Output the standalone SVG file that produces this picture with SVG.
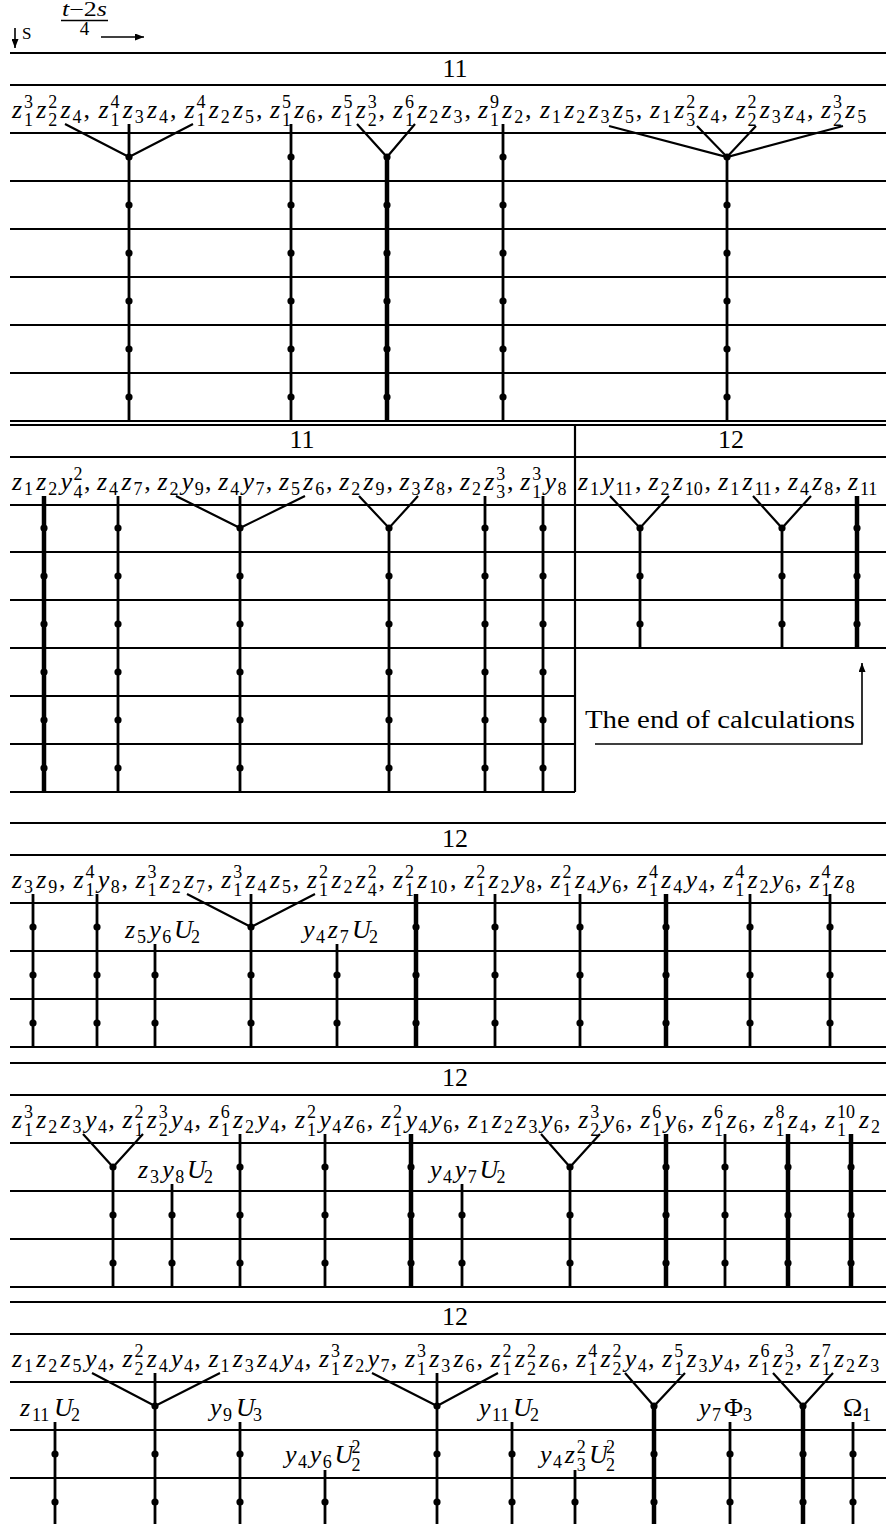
<svg xmlns="http://www.w3.org/2000/svg" width="886" height="1524" viewBox="0 0 886 1524">
<style>
.h{stroke:#000;stroke-width:2.2;fill:none}
.v{stroke:#000;stroke-width:2.8;fill:none;marker-mid:url(#dot)}
.k{stroke:#000;stroke-width:4.5;fill:none;marker-mid:url(#dot)}
.ds{marker-start:url(#dot)}
.br{stroke:#000;stroke-width:2.2;fill:none;stroke-linejoin:miter}
.m{font-family:"Liberation Serif","Times New Roman",serif;font-size:26px;font-style:italic;fill:#000}
.r{font-style:normal}
.b{font-size:18px;font-style:normal;baseline-shift:-4.5px}
.bs{font-size:18px;font-style:normal;baseline-shift:-8px}
.p{font-size:18px;font-style:normal;baseline-shift:10px}
.hd{font-family:"Liberation Serif","Times New Roman",serif;font-size:26px;fill:#000;text-anchor:middle}
.ar{stroke:#000;stroke-width:1.6;fill:none;marker-end:url(#ah)}
</style>
<defs>
<marker id="dot" markerUnits="userSpaceOnUse" markerWidth="8" markerHeight="8" refX="4" refY="4" orient="auto" overflow="visible"><circle cx="4" cy="4" r="3.6" fill="#000"/></marker>
<marker id="ah" markerUnits="userSpaceOnUse" markerWidth="9" markerHeight="7" refX="9" refY="3.5" orient="auto"><path d="M0,0 L9,3.5 L0,7 z" fill="#000"/></marker>
</defs>
<rect width="886" height="1524" fill="#fff"/>

<g id="header">
<line class="ar" x1="15" y1="28" x2="15" y2="48"/>
<text x="22" y="39" font-family="Liberation Serif, Times New Roman, serif" font-size="17">S</text>
<text class="m" x="62" y="16" textLength="45" lengthAdjust="spacingAndGlyphs" style="font-size:20px">t<tspan class="r">−2</tspan>s</text>
<line x1="61" y1="20.5" x2="108" y2="20.5" stroke="#000" stroke-width="1.3"/>
<text x="84.5" y="35" font-family="Liberation Serif, Times New Roman, serif" font-size="19" text-anchor="middle">4</text>
<line class="ar" x1="101" y1="37" x2="144" y2="37"/>
</g>

<g id="grid">
<path class="h" d="M10,53H886 M10,85H886 M10,133H886 M10,181H886 M10,229H886 M10,277H886 M10,325H886 M10,373H886 M10,421H886 M10,425H886 M10,457H886 M10,505H886 M10,552H886 M10,600H886 M10,648H886 M10,696H575 M10,744H575 M10,792H575 M575,425V792 M10,823H886 M10,855H886 M10,903H886 M10,951H886 M10,999H886 M10,1047H886 M10,1063H886 M10,1095H886 M10,1143H886 M10,1191H886 M10,1239H886 M10,1287H886 M10,1302H886 M10,1334H886 M10,1382H886 M10,1430H886 M10,1478H886"/>
</g>

<g id="headings">
<text class="hd" x="455" y="77">11</text>
<text class="hd" x="302" y="448">11</text>
<text class="hd" x="731" y="448">12</text>
<text class="hd" x="455" y="847">12</text>
<text class="hd" x="455" y="1086">12</text>
<text class="hd" x="455" y="1325">12</text>
</g>

<g id="block1">
<g id="b1t1"><text class="m" y="118"><tspan x="12">z</tspan><tspan class="bs" x="24">1</tspan><tspan class="p" x="24">3</tspan><tspan x="36.3">z</tspan><tspan class="bs" x="48.3">2</tspan><tspan class="p" x="48.3">2</tspan><tspan x="60.6">z</tspan><tspan class="b" x="72.6">4</tspan><tspan class="r" x="83.4">,</tspan></text></g>
<g id="b1t2"><text class="m" y="118"><tspan x="98.5">z</tspan><tspan class="bs" x="110.5">1</tspan><tspan class="p" x="110.5">4</tspan><tspan x="122.8">z</tspan><tspan class="b" x="134.8">3</tspan><tspan x="147.1">z</tspan><tspan class="b" x="159.1">4</tspan><tspan class="r" x="169.9">,</tspan></text></g>
<g id="b1t3"><text class="m" y="118"><tspan x="184.5">z</tspan><tspan class="bs" x="196.5">1</tspan><tspan class="p" x="196.5">4</tspan><tspan x="208.8">z</tspan><tspan class="b" x="220.8">2</tspan><tspan x="233.1">z</tspan><tspan class="b" x="245.1">5</tspan><tspan class="r" x="255.9">,</tspan></text></g>
<g id="b1t4"><text class="m" y="118"><tspan x="270">z</tspan><tspan class="bs" x="282">1</tspan><tspan class="p" x="282">5</tspan><tspan x="294.3">z</tspan><tspan class="b" x="306.3">6</tspan><tspan class="r" x="317.1">,</tspan></text></g>
<g id="b1t5"><text class="m" y="118"><tspan x="331.5">z</tspan><tspan class="bs" x="343.5">1</tspan><tspan class="p" x="343.5">5</tspan><tspan x="355.8">z</tspan><tspan class="bs" x="367.8">2</tspan><tspan class="p" x="367.8">3</tspan><tspan class="r" x="378.6">,</tspan></text></g>
<g id="b1t6"><text class="m" y="118"><tspan x="393">z</tspan><tspan class="bs" x="405">1</tspan><tspan class="p" x="405">6</tspan><tspan x="417.3">z</tspan><tspan class="b" x="429.3">2</tspan><tspan x="441.6">z</tspan><tspan class="b" x="453.6">3</tspan><tspan class="r" x="464.4">,</tspan></text></g>
<g id="b1t7"><text class="m" y="118"><tspan x="478">z</tspan><tspan class="bs" x="490">1</tspan><tspan class="p" x="490">9</tspan><tspan x="502.3">z</tspan><tspan class="b" x="514.3">2</tspan><tspan class="r" x="525.1">,</tspan></text></g>
<g id="b1t8"><text class="m" y="118"><tspan x="540">z</tspan><tspan class="b" x="552">1</tspan><tspan x="564.3">z</tspan><tspan class="b" x="576.3">2</tspan><tspan x="588.6">z</tspan><tspan class="b" x="600.6">3</tspan><tspan x="612.9">z</tspan><tspan class="b" x="624.9">5</tspan><tspan class="r" x="635.7">,</tspan></text></g>
<g id="b1t9"><text class="m" y="118"><tspan x="650">z</tspan><tspan class="b" x="662">1</tspan><tspan x="674.3">z</tspan><tspan class="bs" x="686.3">3</tspan><tspan class="p" x="686.3">2</tspan><tspan x="698.6">z</tspan><tspan class="b" x="710.6">4</tspan><tspan class="r" x="721.4">,</tspan></text></g>
<g id="b1t10"><text class="m" y="118"><tspan x="735.5">z</tspan><tspan class="bs" x="747.5">2</tspan><tspan class="p" x="747.5">2</tspan><tspan x="759.8">z</tspan><tspan class="b" x="771.8">3</tspan><tspan x="784.1">z</tspan><tspan class="b" x="796.1">4</tspan><tspan class="r" x="806.9">,</tspan></text></g>
<g id="b1t11"><text class="m" y="118"><tspan x="821">z</tspan><tspan class="bs" x="833">2</tspan><tspan class="p" x="833">3</tspan><tspan x="845.3">z</tspan><tspan class="b" x="857.3">5</tspan></text></g>
</g>

<g id="block2">
<g id="b2t1"><text class="m" y="490"><tspan x="12">z</tspan><tspan class="b" x="24">1</tspan><tspan x="36.3">z</tspan><tspan class="b" x="48.3">2</tspan><tspan x="60.6">y</tspan><tspan class="bs" x="73.6">4</tspan><tspan class="p" x="73.6">2</tspan><tspan class="r" x="84">,</tspan></text></g>
<g id="b2t2"><text class="m" y="490"><tspan x="97.1">z</tspan><tspan class="b" x="109.1">4</tspan><tspan x="121.4">z</tspan><tspan class="b" x="133.4">7</tspan><tspan class="r" x="144.2">,</tspan></text></g>
<g id="b2t3"><text class="m" y="490"><tspan x="157.4">z</tspan><tspan class="b" x="169.4">2</tspan><tspan x="181.7">y</tspan><tspan class="b" x="194.7">9</tspan><tspan class="r" x="205">,</tspan></text></g>
<g id="b2t4"><text class="m" y="490"><tspan x="218.2">z</tspan><tspan class="b" x="230.2">4</tspan><tspan x="242.5">y</tspan><tspan class="b" x="255.5">7</tspan><tspan class="r" x="265.8">,</tspan></text></g>
<g id="b2t5"><text class="m" y="490"><tspan x="279">z</tspan><tspan class="b" x="291">5</tspan><tspan x="303.3">z</tspan><tspan class="b" x="315.3">6</tspan><tspan class="r" x="326.1">,</tspan></text></g>
<g id="b2t6"><text class="m" y="490"><tspan x="339.3">z</tspan><tspan class="b" x="351.3">2</tspan><tspan x="363.6">z</tspan><tspan class="b" x="375.6">9</tspan><tspan class="r" x="386.4">,</tspan></text></g>
<g id="b2t7"><text class="m" y="490"><tspan x="399.6">z</tspan><tspan class="b" x="411.6">3</tspan><tspan x="423.9">z</tspan><tspan class="b" x="435.9">8</tspan><tspan class="r" x="446.7">,</tspan></text></g>
<g id="b2t8"><text class="m" y="490"><tspan x="459.9">z</tspan><tspan class="b" x="471.9">2</tspan><tspan x="484.2">z</tspan><tspan class="bs" x="496.2">3</tspan><tspan class="p" x="496.2">3</tspan><tspan class="r" x="507">,</tspan></text></g>
<g id="b2t9"><text class="m" y="490"><tspan x="520.2">z</tspan><tspan class="bs" x="532.2">1</tspan><tspan class="p" x="532.2">3</tspan><tspan x="544.5">y</tspan><tspan class="b" x="557.5">8</tspan></text></g>
<g id="b2r1"><text class="m" y="490"><tspan x="578">z</tspan><tspan class="b" x="590">1</tspan><tspan x="602.3">y</tspan><tspan class="b" x="615.3">11</tspan><tspan class="r" x="635">,</tspan></text></g>
<g id="b2r2"><text class="m" y="490"><tspan x="648.5">z</tspan><tspan class="b" x="660.5">2</tspan><tspan x="672.8">z</tspan><tspan class="b" x="684.8">10</tspan><tspan class="r" x="704.5">,</tspan></text></g>
<g id="b2r3"><text class="m" y="490"><tspan x="718.2">z</tspan><tspan class="b" x="730.2">1</tspan><tspan x="742.5">z</tspan><tspan class="b" x="754.5">11</tspan><tspan class="r" x="774.2">,</tspan></text></g>
<g id="b2r4"><text class="m" y="490"><tspan x="787.9">z</tspan><tspan class="b" x="799.9">4</tspan><tspan x="812.2">z</tspan><tspan class="b" x="824.2">8</tspan><tspan class="r" x="835">,</tspan></text></g>
<g id="b2r5"><text class="m" y="490"><tspan x="848">z</tspan><tspan class="b" x="860">11</tspan></text></g>
<g id="endnote"><text x="585" y="728" font-family="Liberation Serif, Times New Roman, serif" font-size="26" textLength="270" lengthAdjust="spacingAndGlyphs">The end of calculations</text></g>
</g>

<g id="block3">
<g id="b3t1"><text class="m" y="888"><tspan x="12">z</tspan><tspan class="b" x="24">3</tspan><tspan x="36.3">z</tspan><tspan class="b" x="48.3">9</tspan><tspan class="r" x="59.1">,</tspan></text></g>
<g id="b3t2"><text class="m" y="888"><tspan x="73.5">z</tspan><tspan class="bs" x="85.5">1</tspan><tspan class="p" x="85.5">4</tspan><tspan x="97.8">y</tspan><tspan class="b" x="110.8">8</tspan><tspan class="r" x="121.4">,</tspan></text></g>
<g id="b3t3"><text class="m" y="888"><tspan x="135.5">z</tspan><tspan class="bs" x="147.5">1</tspan><tspan class="p" x="147.5">3</tspan><tspan x="159.8">z</tspan><tspan class="b" x="171.8">2</tspan><tspan x="184.1">z</tspan><tspan class="b" x="196.1">7</tspan><tspan class="r" x="207">,</tspan></text></g>
<g id="b3t4"><text class="m" y="888"><tspan x="221.3">z</tspan><tspan class="bs" x="233.3">1</tspan><tspan class="p" x="233.3">3</tspan><tspan x="245.6">z</tspan><tspan class="b" x="257.6">4</tspan><tspan x="269.9">z</tspan><tspan class="b" x="281.9">5</tspan><tspan class="r" x="292.8">,</tspan></text></g>
<g id="b3t5"><text class="m" y="888"><tspan x="307.1">z</tspan><tspan class="bs" x="319.1">1</tspan><tspan class="p" x="319.1">2</tspan><tspan x="331.4">z</tspan><tspan class="b" x="343.4">2</tspan><tspan x="355.7">z</tspan><tspan class="bs" x="367.7">4</tspan><tspan class="p" x="367.7">2</tspan><tspan class="r" x="378.6">,</tspan></text></g>
<g id="b3t6"><text class="m" y="888"><tspan x="392.9">z</tspan><tspan class="bs" x="404.9">1</tspan><tspan class="p" x="404.9">2</tspan><tspan x="417.2">z</tspan><tspan class="b" x="429.2">10</tspan><tspan class="r" x="450">,</tspan></text></g>
<g id="b3t7"><text class="m" y="888"><tspan x="464.3">z</tspan><tspan class="bs" x="476.3">1</tspan><tspan class="p" x="476.3">2</tspan><tspan x="488.6">z</tspan><tspan class="b" x="500.6">2</tspan><tspan x="512.9">y</tspan><tspan class="b" x="525.9">8</tspan><tspan class="r" x="536.3">,</tspan></text></g>
<g id="b3t8"><text class="m" y="888"><tspan x="550.6">z</tspan><tspan class="bs" x="562.6">1</tspan><tspan class="p" x="562.6">2</tspan><tspan x="574.9">z</tspan><tspan class="b" x="586.9">4</tspan><tspan x="599.2">y</tspan><tspan class="b" x="612.2">6</tspan><tspan class="r" x="622.6">,</tspan></text></g>
<g id="b3t9"><text class="m" y="888"><tspan x="636.9">z</tspan><tspan class="bs" x="648.9">1</tspan><tspan class="p" x="648.9">4</tspan><tspan x="661.2">z</tspan><tspan class="b" x="673.2">4</tspan><tspan x="685.5">y</tspan><tspan class="b" x="698.5">4</tspan><tspan class="r" x="708.9">,</tspan></text></g>
<g id="b3t10"><text class="m" y="888"><tspan x="723.2">z</tspan><tspan class="bs" x="735.2">1</tspan><tspan class="p" x="735.2">4</tspan><tspan x="747.5">z</tspan><tspan class="b" x="759.5">2</tspan><tspan x="771.8">y</tspan><tspan class="b" x="784.8">6</tspan><tspan class="r" x="795.2">,</tspan></text></g>
<g id="b3t11"><text class="m" y="888"><tspan x="809.5">z</tspan><tspan class="bs" x="821.5">1</tspan><tspan class="p" x="821.5">4</tspan><tspan x="833.8">z</tspan><tspan class="b" x="845.8">8</tspan></text></g>
<g id="b3l1"><text class="m" y="938"><tspan x="125">z</tspan><tspan class="b" x="137">5</tspan><tspan x="149.3">y</tspan><tspan class="b" x="162.3">6</tspan><tspan x="174.1">U</tspan><tspan class="b" x="191">2</tspan></text></g>
<g id="b3l2"><text class="m" y="938"><tspan x="303">y</tspan><tspan class="b" x="316">4</tspan><tspan x="327.8">z</tspan><tspan class="b" x="339.8">7</tspan><tspan x="352.1">U</tspan><tspan class="b" x="369">2</tspan></text></g>
</g>

<g id="block4">
<g id="b4t1"><text class="m" y="1128"><tspan x="12">z</tspan><tspan class="bs" x="24">1</tspan><tspan class="p" x="24">3</tspan><tspan x="36.3">z</tspan><tspan class="b" x="48.3">2</tspan><tspan x="60.6">z</tspan><tspan class="b" x="72.6">3</tspan><tspan x="84.9">y</tspan><tspan class="b" x="97.9">4</tspan><tspan class="r" x="108.2">,</tspan></text></g>
<g id="b4t2"><text class="m" y="1128"><tspan x="122.5">z</tspan><tspan class="bs" x="134.5">1</tspan><tspan class="p" x="134.5">2</tspan><tspan x="146.8">z</tspan><tspan class="bs" x="158.8">2</tspan><tspan class="p" x="158.8">3</tspan><tspan x="171.1">y</tspan><tspan class="b" x="184.1">4</tspan><tspan class="r" x="194.4">,</tspan></text></g>
<g id="b4t3"><text class="m" y="1128"><tspan x="208.7">z</tspan><tspan class="bs" x="220.7">1</tspan><tspan class="p" x="220.7">6</tspan><tspan x="233">z</tspan><tspan class="b" x="245">2</tspan><tspan x="257.3">y</tspan><tspan class="b" x="270.3">4</tspan><tspan class="r" x="280.6">,</tspan></text></g>
<g id="b4t4"><text class="m" y="1128"><tspan x="294.9">z</tspan><tspan class="bs" x="306.9">1</tspan><tspan class="p" x="306.9">2</tspan><tspan x="319.2">y</tspan><tspan class="b" x="332.2">4</tspan><tspan x="344">z</tspan><tspan class="b" x="356">6</tspan><tspan class="r" x="366.8">,</tspan></text></g>
<g id="b4t5"><text class="m" y="1128"><tspan x="381.1">z</tspan><tspan class="bs" x="393.1">1</tspan><tspan class="p" x="393.1">2</tspan><tspan x="405.4">y</tspan><tspan class="b" x="418.4">4</tspan><tspan x="430.2">y</tspan><tspan class="b" x="443.2">6</tspan><tspan class="r" x="453.5">,</tspan></text></g>
<g id="b4t6"><text class="m" y="1128"><tspan x="467.8">z</tspan><tspan class="b" x="479.8">1</tspan><tspan x="492.1">z</tspan><tspan class="b" x="504.1">2</tspan><tspan x="516.4">z</tspan><tspan class="b" x="528.4">3</tspan><tspan x="540.7">y</tspan><tspan class="b" x="553.7">6</tspan><tspan class="r" x="564">,</tspan></text></g>
<g id="b4t7"><text class="m" y="1128"><tspan x="578.3">z</tspan><tspan class="bs" x="590.3">2</tspan><tspan class="p" x="590.3">3</tspan><tspan x="602.6">y</tspan><tspan class="b" x="615.6">6</tspan><tspan class="r" x="625.9">,</tspan></text></g>
<g id="b4t8"><text class="m" y="1128"><tspan x="640.2">z</tspan><tspan class="bs" x="652.2">1</tspan><tspan class="p" x="652.2">6</tspan><tspan x="664.5">y</tspan><tspan class="b" x="677.5">6</tspan><tspan class="r" x="687.8">,</tspan></text></g>
<g id="b4t9"><text class="m" y="1128"><tspan x="702.1">z</tspan><tspan class="bs" x="714.1">1</tspan><tspan class="p" x="714.1">6</tspan><tspan x="726.4">z</tspan><tspan class="b" x="738.4">6</tspan><tspan class="r" x="749.2">,</tspan></text></g>
<g id="b4t10"><text class="m" y="1128"><tspan x="763.5">z</tspan><tspan class="bs" x="775.5">1</tspan><tspan class="p" x="775.5">8</tspan><tspan x="787.8">z</tspan><tspan class="b" x="799.8">4</tspan><tspan class="r" x="810.6">,</tspan></text></g>
<g id="b4t11"><text class="m" y="1128"><tspan x="824.9">z</tspan><tspan class="bs" x="836.9">1</tspan><tspan class="p" x="836.9">10</tspan><tspan x="859.1">z</tspan><tspan class="b" x="871.1">2</tspan></text></g>
<g id="b4l1"><text class="m" y="1178"><tspan x="138">z</tspan><tspan class="b" x="150">3</tspan><tspan x="162.3">y</tspan><tspan class="b" x="175.3">8</tspan><tspan x="187.1">U</tspan><tspan class="b" x="204">2</tspan></text></g>
<g id="b4l2"><text class="m" y="1178"><tspan x="430">y</tspan><tspan class="b" x="443">4</tspan><tspan x="454.8">y</tspan><tspan class="b" x="467.8">7</tspan><tspan x="479.6">U</tspan><tspan class="b" x="496.6">2</tspan></text></g>
</g>

<g id="block5">
<g id="b5t1"><text class="m" y="1367"><tspan x="12">z</tspan><tspan class="b" x="24">1</tspan><tspan x="36.3">z</tspan><tspan class="b" x="48.3">2</tspan><tspan x="60.6">z</tspan><tspan class="b" x="72.6">5</tspan><tspan x="84.9">y</tspan><tspan class="b" x="97.9">4</tspan><tspan class="r" x="108.2">,</tspan></text></g>
<g id="b5t2"><text class="m" y="1367"><tspan x="122.4">z</tspan><tspan class="bs" x="134.4">2</tspan><tspan class="p" x="134.4">2</tspan><tspan x="146.7">z</tspan><tspan class="b" x="158.7">4</tspan><tspan x="171">y</tspan><tspan class="b" x="184">4</tspan><tspan class="r" x="194.3">,</tspan></text></g>
<g id="b5t3"><text class="m" y="1367"><tspan x="208.5">z</tspan><tspan class="b" x="220.5">1</tspan><tspan x="232.8">z</tspan><tspan class="b" x="244.8">3</tspan><tspan x="257.1">z</tspan><tspan class="b" x="269.1">4</tspan><tspan x="281.4">y</tspan><tspan class="b" x="294.4">4</tspan><tspan class="r" x="304.7">,</tspan></text></g>
<g id="b5t4"><text class="m" y="1367"><tspan x="318.9">z</tspan><tspan class="bs" x="330.9">1</tspan><tspan class="p" x="330.9">3</tspan><tspan x="343.2">z</tspan><tspan class="b" x="355.2">2</tspan><tspan x="367.5">y</tspan><tspan class="b" x="380.5">7</tspan><tspan class="r" x="390.8">,</tspan></text></g>
<g id="b5t5"><text class="m" y="1367"><tspan x="405">z</tspan><tspan class="bs" x="417">1</tspan><tspan class="p" x="417">3</tspan><tspan x="429.3">z</tspan><tspan class="b" x="441.3">3</tspan><tspan x="453.6">z</tspan><tspan class="b" x="465.6">6</tspan><tspan class="r" x="476.4">,</tspan></text></g>
<g id="b5t6"><text class="m" y="1367"><tspan x="490.6">z</tspan><tspan class="bs" x="502.6">1</tspan><tspan class="p" x="502.6">2</tspan><tspan x="514.9">z</tspan><tspan class="bs" x="526.9">2</tspan><tspan class="p" x="526.9">2</tspan><tspan x="539.2">z</tspan><tspan class="b" x="551.2">6</tspan><tspan class="r" x="562">,</tspan></text></g>
<g id="b5t7"><text class="m" y="1367"><tspan x="576.2">z</tspan><tspan class="bs" x="588.2">1</tspan><tspan class="p" x="588.2">4</tspan><tspan x="600.5">z</tspan><tspan class="bs" x="612.5">2</tspan><tspan class="p" x="612.5">2</tspan><tspan x="624.8">y</tspan><tspan class="b" x="637.8">4</tspan><tspan class="r" x="648.1">,</tspan></text></g>
<g id="b5t8"><text class="m" y="1367"><tspan x="662.3">z</tspan><tspan class="bs" x="674.3">1</tspan><tspan class="p" x="674.3">5</tspan><tspan x="686.6">z</tspan><tspan class="b" x="698.6">3</tspan><tspan x="710.9">y</tspan><tspan class="b" x="723.9">4</tspan><tspan class="r" x="734.2">,</tspan></text></g>
<g id="b5t9"><text class="m" y="1367"><tspan x="748.4">z</tspan><tspan class="bs" x="760.4">1</tspan><tspan class="p" x="760.4">6</tspan><tspan x="772.7">z</tspan><tspan class="bs" x="784.7">2</tspan><tspan class="p" x="784.7">3</tspan><tspan class="r" x="795.5">,</tspan></text></g>
<g id="b5t10"><text class="m" y="1367"><tspan x="809.7">z</tspan><tspan class="bs" x="821.7">1</tspan><tspan class="p" x="821.7">7</tspan><tspan x="834">z</tspan><tspan class="b" x="846">2</tspan><tspan x="858.3">z</tspan><tspan class="b" x="870.3">3</tspan></text></g>
<g id="b5l1"><text class="m" y="1416"><tspan x="20">z</tspan><tspan class="b" x="32">11</tspan><tspan x="54">U</tspan><tspan class="b" x="71">2</tspan></text></g>
<g id="b5l2"><text class="m" y="1416"><tspan x="210">y</tspan><tspan class="b" x="223">9</tspan><tspan x="236">U</tspan><tspan class="b" x="253">3</tspan></text></g>
<g id="b5l3"><text class="m" y="1416"><tspan x="479">y</tspan><tspan class="b" x="492">11</tspan><tspan x="513">U</tspan><tspan class="b" x="530">2</tspan></text></g>
<g id="b5l4"><text class="m" y="1416"><tspan x="699">y</tspan><tspan class="b" x="712">7</tspan><tspan class="r" x="724">Φ</tspan><tspan class="b" x="743">3</tspan></text></g>
<g id="b5l5"><text class="m" y="1416"><tspan class="r" x="843">Ω</tspan><tspan class="b" x="862">1</tspan></text></g>
<g id="b5l6"><text class="m" y="1463"><tspan x="285">y</tspan><tspan class="b" x="298">4</tspan><tspan x="309.8">y</tspan><tspan class="b" x="322.8">6</tspan><tspan x="334.6">U</tspan><tspan class="bs" x="351.6">2</tspan><tspan class="p" x="351.6">2</tspan></text></g>
<g id="b5l7"><text class="m" y="1463"><tspan x="540">y</tspan><tspan class="b" x="553">4</tspan><tspan x="564.8">z</tspan><tspan class="bs" x="576.8">3</tspan><tspan class="p" x="576.8">2</tspan><tspan x="589.1">U</tspan><tspan class="bs" x="606.1">2</tspan><tspan class="p" x="606.1">2</tspan></text></g>
</g>

<g id="connectors">
<path class="br" d="M65,124 L129,157 L193,124 M357,124 L387,157 L415,124 M609,126 L727,157 L843,126 M697,126 L727,157 L756,126"/>
<polyline class="v" points="129,124 129,157 129,205 129,253 129,301 129,349 129,397 129,421"/>
<polyline class="v" points="291,124 291,157 291,205 291,253 291,301 291,349 291,397 291,421"/>
<polyline class="k ds" points="387,157 387,205 387,253 387,301 387,349 387,397 387,421"/>
<polyline class="v" points="503,124 503,157 503,205 503,253 503,301 503,349 503,397 503,421"/>
<polyline class="v ds" points="727,157 727,205 727,253 727,301 727,349 727,397 727,421"/>

<path class="br" d="M176,496 L240,528 L305,496 M359,496 L389,528 L418,496 M610,496 L640,528 L669,496 M753,496 L782,528 L811,496"/>
<polyline class="k" points="44,496 44,528 44,576 44,624 44,672 44,720 44,768 44,792"/>
<polyline class="v" points="118,496 118,528 118,576 118,624 118,672 118,720 118,768 118,792"/>
<polyline class="v" points="240,496 240,528 240,576 240,624 240,672 240,720 240,768 240,792"/>
<polyline class="v ds" points="389,528 389,576 389,624 389,672 389,720 389,768 389,792"/>
<polyline class="v" points="485,496 485,528 485,576 485,624 485,672 485,720 485,768 485,792"/>
<polyline class="v" points="543,496 543,528 543,576 543,624 543,672 543,720 543,768 543,792"/>
<polyline class="v ds" points="640,528 640,576 640,624 640,648"/>
<polyline class="v ds" points="782,528 782,576 782,624 782,648"/>
<polyline class="k" points="857,496 857,528 857,576 857,624 857,648"/>
<polyline class="ar" points="595,744 862,744 862,663"/>

<path class="br" d="M187,894 L251,927 L315,894"/>
<polyline class="v" points="33,894 33,927 33,975 33,1023 33,1047"/>
<polyline class="v" points="97,894 97,927 97,975 97,1023 97,1047"/>
<polyline class="v" points="155,944 155,975 155,1023 155,1047"/>
<polyline class="v" points="251,894 251,927 251,975 251,1023 251,1047"/>
<polyline class="v" points="337,944 337,975 337,1023 337,1047"/>
<polyline class="k" points="416,894 416,927 416,975 416,1023 416,1047"/>
<polyline class="v" points="495,894 495,927 495,975 495,1023 495,1047"/>
<polyline class="v" points="580,894 580,927 580,975 580,1023 580,1047"/>
<polyline class="k" points="666,894 666,927 666,975 666,1023 666,1047"/>
<polyline class="v" points="750,894 750,927 750,975 750,1023 750,1047"/>
<polyline class="v" points="830,894 830,927 830,975 830,1023 830,1047"/>

<path class="br" d="M83,1134 L113,1167 L143,1134 M541,1134 L570,1167 L600,1134"/>
<polyline class="v ds" points="113,1167 113,1215 113,1263 113,1287"/>
<polyline class="v" points="172,1184 172,1215 172,1263 172,1287"/>
<polyline class="v" points="240,1134 240,1167 240,1215 240,1263 240,1287"/>
<polyline class="v" points="325,1134 325,1167 325,1215 325,1263 325,1287"/>
<polyline class="k" points="411,1134 411,1167 411,1215 411,1263 411,1287"/>
<polyline class="v" points="462,1184 462,1215 462,1263 462,1287"/>
<polyline class="v ds" points="570,1167 570,1215 570,1263 570,1287"/>
<polyline class="k" points="666,1134 666,1167 666,1215 666,1263 666,1287"/>
<polyline class="v" points="725,1134 725,1167 725,1215 725,1263 725,1287"/>
<polyline class="k" points="788,1134 788,1167 788,1215 788,1263 788,1287"/>
<polyline class="k" points="851,1134 851,1167 851,1215 851,1263 851,1287"/>

<path class="br" d="M92,1373 L155,1406 L220,1373 M372,1373 L437,1406 L498,1373 M625,1373 L654,1406 L685,1373 M773,1373 L803,1406 L833,1373"/>
<polyline class="v" points="55,1422 55,1454 55,1502 55,1524"/>
<polyline class="v" points="155,1373 155,1406 155,1454 155,1502 155,1524"/>
<polyline class="v" points="240,1422 240,1454 240,1502 240,1524"/>
<polyline class="v" points="325,1470 325,1502 325,1524"/>
<polyline class="v" points="437,1373 437,1406 437,1454 437,1502 437,1524"/>
<polyline class="v" points="512,1422 512,1454 512,1502 512,1524"/>
<polyline class="v" points="575,1470 575,1502 575,1524"/>
<polyline class="k ds" points="654,1406 654,1454 654,1502 654,1524"/>
<polyline class="v" points="730,1422 730,1454 730,1502 730,1524"/>
<polyline class="k ds" points="803,1406 803,1454 803,1502 803,1524"/>
<polyline class="v" points="853,1422 853,1454 853,1502 853,1524"/>
</g>
</svg>
